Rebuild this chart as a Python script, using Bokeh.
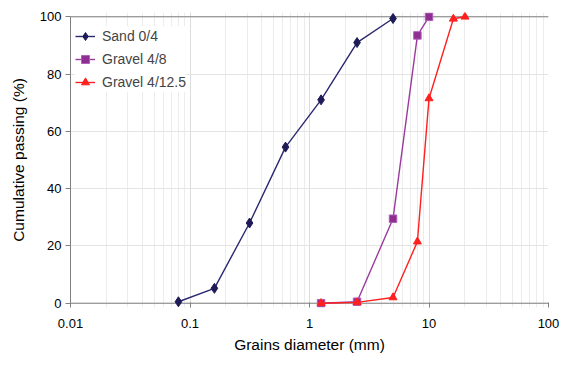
from bokeh.plotting import figure
from bokeh.models import Range1d, Span, CustomJSTickFormatter, Legend
from bokeh.embed import file_html
from bokeh.resources import INLINE

# ---- data ----
sand_d = [0.08, 0.16, 0.315, 0.63, 1.25, 2.5, 5.0]
sand_p = [0.5, 5.2, 28.0, 54.5, 71.0, 91.0, 99.4]

g48_d = [1.25, 2.5, 5.0, 8.0, 10.0]
g48_p = [0.0, 0.5, 29.5, 93.5, 100.0]

g125_d = [1.25, 2.5, 5.0, 8.0, 10.0, 16.0, 20.0]
g125_p = [0.0, 0.3, 2.0, 21.5, 71.5, 99.3, 100.0]

y_ticks = [0, 20, 40, 60, 80, 100]

FONT = "Liberation Sans"
W, H = 560, 356
TOP, BOTTOM = 12, 49
FRAME_H = H - TOP - BOTTOM

p = figure(width=W, height=H, x_axis_type="log",
           x_range=Range1d(0.01, 100), y_range=Range1d(-1.5, 101.5),
           output_backend="svg", toolbar_location=None,
           min_border_left=70, min_border_right=12,
           min_border_top=TOP, min_border_bottom=BOTTOM)
p.outline_line_color = None
p.background_fill_color = "white"
p.border_fill_color = "white"

# grid
p.xgrid.grid_line_color = "#dcdcdc"
p.xgrid.minor_grid_line_color = "#ececec"
p.ygrid.grid_line_color = "#e4e4e4"
p.ygrid.ticker = y_ticks

# axes
p.yaxis.ticker = y_ticks
p.yaxis.bounds = (0, 100)
p.yaxis.axis_line_color = "#808080"
p.yaxis.major_tick_line_color = "#808080"
p.yaxis.major_tick_out = 5
p.yaxis.major_tick_in = 0
p.yaxis.minor_tick_line_color = None
p.yaxis.major_label_standoff = 4
p.yaxis.axis_label = "Cumulative passing (%)"
p.yaxis.axis_label_standoff = 10

p.xaxis.axis_line_color = None
p.xaxis.major_tick_line_color = "#808080"
p.xaxis.major_tick_in = 5
p.xaxis.major_tick_out = 0
p.xaxis.minor_tick_line_color = None
p.xaxis.major_label_standoff = 7
p.xaxis.axis_label = "Grains diameter (mm)"
p.xaxis.axis_label_standoff = 5
p.xaxis.formatter = CustomJSTickFormatter(code="return Number(tick.toPrecision(6)).toString();")

for ax in (p.xaxis[0], p.yaxis[0]):
    ax.major_label_text_font = FONT
    ax.major_label_text_font_size = "13px"
    ax.major_label_text_color = "black"
    ax.axis_label_text_font = FONT
    ax.axis_label_text_font_size = "15.5px"
    ax.axis_label_text_font_style = "normal"
    ax.axis_label_text_color = "black"

# frame lines at 0 and 100
p.add_layout(Span(location=0, dimension="width", line_color="#808080", line_width=1, level="underlay"))
p.add_layout(Span(location=100, dimension="width", line_color="#808080", line_width=1, level="underlay"))

# series
sand_col = "#2B2870"
g48_col = "#9B3A9E"
g125_col = "#FF2020"

r1 = p.line(sand_d, sand_p, line_color=sand_col, line_width=1.4)
m1 = p.scatter(sand_d, sand_p, marker="diamond", size=10,
               fill_color="#1E1B57", line_color="#1E1B57")
r2 = p.line(g48_d, g48_p, line_color=g48_col, line_width=1.4)
m2 = p.scatter(g48_d, g48_p, marker="square", size=7.5,
               fill_color="#8E2E90", line_color="#B060B8")
r3 = p.line(g125_d, g125_p, line_color=g125_col, line_width=1.4)
m3 = p.scatter(g125_d, g125_p, marker="triangle", size=8,
               fill_color=g125_col, line_color=g125_col)

LEG_H = 4 * 2 + 3 * 20 + 2 * 3
legend = Legend(items=[("Sand 0/4", [r1, m1]), ("Gravel 4/8", [r2, m2]),
                       ("Gravel 4/12.5", [r3, m3])],
                location=(5, FRAME_H - 6 - LEG_H), margin=0, padding=4, spacing=3,
                glyph_width=20, glyph_height=20, label_height=20, label_standoff=7,
                border_line_color=None, background_fill_color="white",
                background_fill_alpha=1.0,
                label_text_font=FONT, label_text_font_size="14px")
p.add_layout(legend)

open("out.html", "w").write(file_html(p, INLINE))
